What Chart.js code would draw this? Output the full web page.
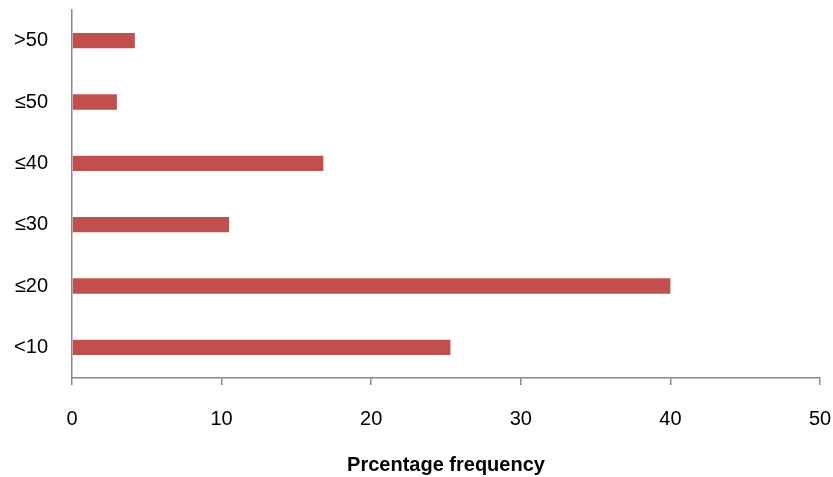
<!DOCTYPE html>
<html>
<head>
<meta charset="utf-8">
<script src="https://cdn.jsdelivr.net/npm/chart.js@4/dist/chart.umd.min.js"></script>
<style>
  html, body { margin: 0; padding: 0; background: #ffffff; }
  #wrap { width: 833px; height: 477px; position: relative; }
</style>
</head>
<body>
<div id="wrap"><canvas id="chart"></canvas></div>
<script>
// Age groups, listed top to bottom
const categories = ['>50', '≤50', '≤40', '≤30', '≤20', '<10'];
// Percentage frequency for each group
const frequencies = [4.2, 3.0, 16.8, 10.5, 40.0, 25.3];
// Value axis ticks
const xTicks = [0, 10, 20, 30, 40, 50];

const FONT = "'Liberation Sans', Arial, sans-serif";
const AXIS_GREY = '#898989';

new Chart(document.getElementById('chart'), {
  type: 'bar',
  data: {
    labels: categories,
    datasets: [{
      data: frequencies,
      backgroundColor: '#C0504D',
      borderWidth: 0,
      categoryPercentage: 1.0,
      barPercentage: 0.25
    }]
  },
  options: {
    indexAxis: 'y',
    responsive: true,
    maintainAspectRatio: false,
    animation: false,
    layout: { padding: { top: 10, right: 13, left: 0, bottom: 0 } },
    plugins: {
      legend: { display: false },
      tooltip: { enabled: false }
    },
    scales: {
      x: {
        min: xTicks[0],
        max: xTicks[xTicks.length - 1],
        afterBuildTicks: (scale) => { scale.ticks = xTicks.map(v => ({ value: v })); },
        afterFit: (scale) => {
          scale.height = 99;
          scale.paddingLeft = 0;
          scale.paddingRight = 0;
        },
        ticks: {
          color: '#000000',
          padding: 22,
          font: { family: FONT, size: 20 }
        },
        grid: {
          display: true,
          drawOnChartArea: false,
          drawTicks: true,
          tickLength: 7,
          color: AXIS_GREY,
          lineWidth: 1.5
        },
        border: { display: true, color: AXIS_GREY, width: 1.5 },
        title: {
          display: true,
          text: 'Prcentage frequency',
          color: '#000000',
          padding: { top: 0, bottom: 0 },
          font: { family: FONT, size: 20, weight: 'bold' }
        }
      },
      y: {
        afterFit: (scale) => {
          scale.width = 72;
          scale.paddingTop = 0;
          scale.paddingBottom = 0;
        },
        ticks: {
          color: '#000000',
          padding: 24,
          font: { family: FONT, size: 20 }
        },
        grid: { display: false, drawTicks: false },
        border: { display: true, color: AXIS_GREY, width: 1.5 }
      }
    }
  }
});
</script>
</body>
</html>
